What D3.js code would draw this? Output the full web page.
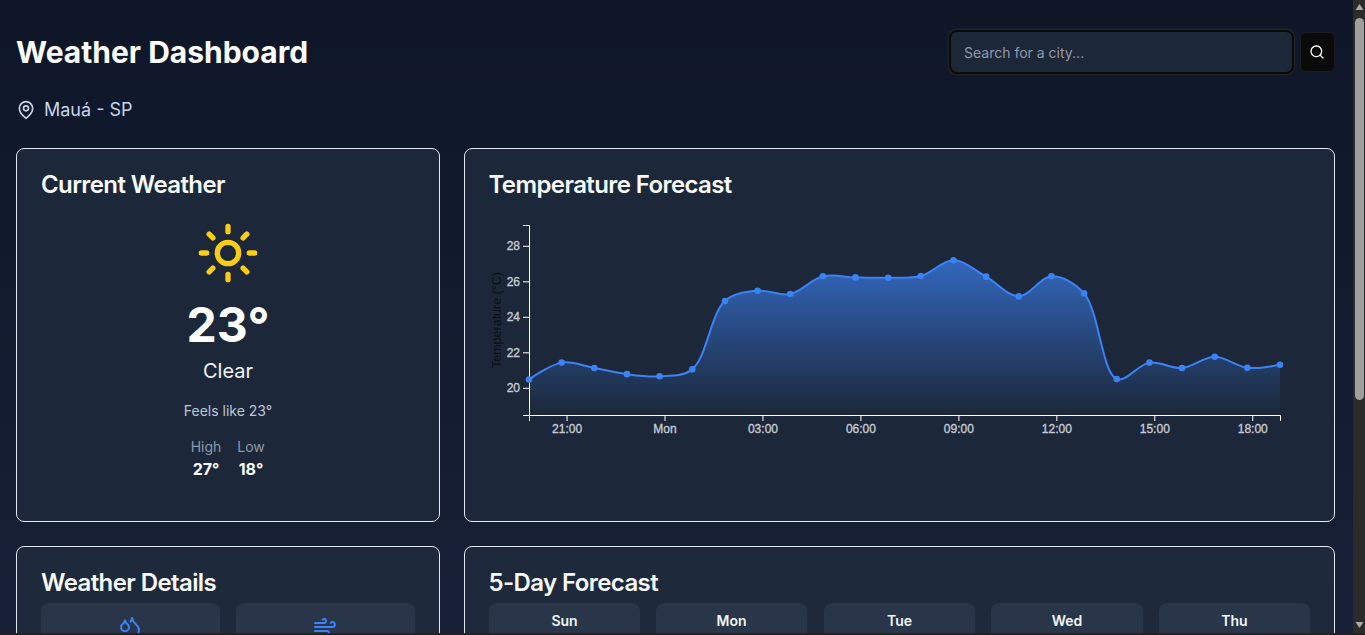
<!DOCTYPE html>
<html><head><meta charset="utf-8">
<script src="https://cdn.jsdelivr.net/npm/d3@7"></script>
<style>
*{box-sizing:border-box}
html,body{margin:0;height:100%;overflow:hidden}
body{width:1365px;height:635px;position:relative;background:linear-gradient(180deg,#0e1628 0%,#172036 100%);font-family:Inter,sans-serif;color:#fff}
.abs{position:absolute;white-space:nowrap}
.card{position:absolute;background:#1c2839;border:1px solid #e2e8f0;border-radius:8px}
.card.low{background:#1e293b}
.h2{position:absolute;font-size:24px;font-weight:600;line-height:32px;letter-spacing:-0.6px;color:#f8fafc;white-space:nowrap}
.tile{position:absolute;background:#293548;border-radius:8px;height:60px}
.ctr{transform:translateX(-50%);text-align:center}
svg{position:absolute;overflow:visible}
#bar{position:absolute;left:1353px;top:0;width:12px;height:633px;background:#2b2b2b}
#thumb{position:absolute;left:1355px;top:18px;width:9px;height:382px;background:#9f9f9f;border-radius:5px}
#edge{position:absolute;left:0;top:633px;width:1365px;height:2px;background:#26221e}
</style></head><body>
<div class="abs" style="left:16px;top:34px;font-size:30px;font-weight:700;line-height:36px;">Weather Dashboard</div>
<svg id="pin" style="left:16px;top:100px" width="20" height="20" viewBox="0 0 24 24" fill="none" stroke="#cbd5e1" stroke-width="2" stroke-linecap="round" stroke-linejoin="round"><path d="M20 10c0 6-8 12-8 12s-8-6-8-12a8 8 0 0 1 16 0Z"/><circle cx="12" cy="10" r="3"/></svg>
<div class="abs" style="left:44px;top:98px;font-size:18px;line-height:24px;color:#c5d5ea">Mauá - SP</div>
<div class="abs" style="left:949px;top:30px;width:345px;height:44px;border-radius:8px;background:#1c2738;border:2px solid #0a0a0a;box-shadow:0 0 0 1.5px #1f2227"></div>
<div class="abs" style="left:964px;top:43px;font-size:14px;line-height:20px;color:#8f9bad">Search for a city...</div>
<div class="abs" style="left:1300px;top:32px;width:35px;height:40px;border-radius:6px;background:#0a0a0a;border:1px solid #1a1c20"></div>
<svg style="left:1309px;top:44px" width="16" height="16" viewBox="0 0 24 24" fill="none" stroke="#fff" stroke-width="2" stroke-linecap="round"><circle cx="11" cy="11" r="8"/><path d="m21 21-4.3-4.3"/></svg>

<div class="card" style="left:16px;top:148px;width:424px;height:374px"></div>
<div class="card" style="left:464px;top:148px;width:871px;height:374px"></div>
<div class="card low" style="left:16px;top:546px;width:424px;height:120px"></div>
<div class="card low" style="left:464px;top:546px;width:871px;height:120px"></div>
<div class="h2" style="left:41px;top:169px">Current Weather</div>
<div class="h2" style="left:488.5px;top:169px">Temperature Forecast</div>
<div class="h2" style="left:41px;top:567px">Weather Details</div>
<div class="h2" style="left:488.5px;top:567px">5-Day Forecast</div>

<svg id="sun" style="left:196px;top:221px" width="64" height="64" viewBox="0 0 24 24" fill="none" stroke="#facc15" stroke-width="2" stroke-linecap="round"><circle cx="12" cy="12" r="4"/><path d="M12 2v2M12 20v2M4.93 4.93l1.41 1.41M17.66 17.66l1.41 1.41M2 12h2M20 12h2M6.34 17.66l-1.41 1.41M19.07 4.93l-1.41 1.41"/></svg>
<div class="abs ctr" id="now" style="left:228px;top:297px;font-size:48px;font-weight:700;line-height:56px"></div>
<div class="abs ctr" style="left:228px;top:358px;font-size:20px;line-height:26px;color:#f1f5f9">Clear</div>
<div class="abs ctr" id="feels" style="left:228px;top:401px;font-size:14px;line-height:20px;color:#bcc6d4"></div>
<div class="abs ctr" style="left:206px;top:437px;font-size:14px;line-height:20px;color:#8b98ab">High</div>
<div class="abs ctr" style="left:251px;top:437px;font-size:14px;line-height:20px;color:#8b98ab">Low</div>
<div class="abs ctr" id="hi" style="left:206px;top:459px;font-size:16px;font-weight:700;line-height:20px"></div>
<div class="abs ctr" id="lo" style="left:251px;top:459px;font-size:16px;font-weight:700;line-height:20px"></div>

<div class="tile" style="left:41px;top:603px;width:179px"></div>
<div class="tile" style="left:236px;top:603px;width:179px"></div>
<svg style="left:118px;top:615px" width="24" height="24" viewBox="0 0 24 24" fill="none" stroke="#3b82f6" stroke-width="2" stroke-linecap="round" stroke-linejoin="round"><path d="M7 16.3c2.2 0 4-1.83 4-4.05 0-1.16-.57-2.26-1.71-3.19S7.29 6.75 7 5.3c-.29 1.45-1.14 2.84-2.29 3.76S3 11.1 3 12.25c0 2.22 1.8 4.05 4 4.05z"/><path d="M12.56 6.6A10.97 10.97 0 0 0 14 3.02c.5 2.5 2 4.9 4 6.5s3 3.5 3 5.5a6.98 6.98 0 0 1-11.91 4.97"/></svg>
<svg style="left:313px;top:615px" width="24" height="24" viewBox="0 0 24 24" fill="none" stroke="#3b82f6" stroke-width="2" stroke-linecap="round" stroke-linejoin="round"><path d="M17.7 7.7a2.5 2.5 0 1 1 1.8 4.3H2"/><path d="M9.6 4.6A2 2 0 1 1 11 8H2"/><path d="M12.6 19.4A2 2 0 1 0 14 16H2"/></svg>
<div id="days"></div>

<svg id="chart" style="left:0;top:0" width="1365" height="635"></svg>

<div id="edge"></div>
<div id="bar"></div><div id="thumb"></div>
<svg style="left:1353px;top:0" width="12" height="633"><path d="M6.5 4 L10.5 10 L2.5 10Z" fill="#a8a8a8"/><path d="M2.5 622 L10.5 622 L6.5 628Z" fill="#a8a8a8"/></svg>

<script>
// Data
const hoursAfterStart = [0,1,2,3,4,5,6,7,8,9,10,11,12,13,14,15,16,17,18,19,20,21,22,23];
const temperatures = [20.47,21.42,21.12,20.77,20.65,21.04,24.89,25.47,25.28,26.28,26.22,26.2,26.3,27.18,26.26,25.15,26.28,25.32,20.5,21.42,21.12,21.75,21.13,21.3];
const yTicks = [20,22,24,26,28];
const yDomain = [18.47,29.17];
const forecastDays = ["Sun","Mon","Tue","Wed","Thu"];
const currentTemp = 23, feelsLike = 23, highTemp = 27, lowTemp = 18;

d3.select("#now").text(currentTemp+"°");
d3.select("#feels").text("Feels like "+feelsLike+"°");
d3.select("#hi").text(highTemp+"°");
d3.select("#lo").text(lowTemp+"°");

const tiles=[[489,151],[656,151],[824,151],[991,152],[1159,151]];
d3.select("#days").selectAll("div").data(forecastDays).join("div").each(function(d,i){
  d3.select(this).append("div").attr("class","tile").style("left",tiles[i][0]+"px").style("top","603px").style("width",tiles[i][1]+"px");
  d3.select(this).append("div").attr("class","abs ctr").style("left",(tiles[i][0]+tiles[i][1]/2)+"px").style("top","611px")
    .style("font-size","14px").style("font-weight","600").style("line-height","20px").style("color","#f1f5f9").text(d);
});

const start = new Date(2024,5,2,19,51);
const dates = hoursAfterStart.map(h=>new Date(+start+h*36e5));
const data = dates.map((d,i)=>({d,v:temperatures[i]}));
const L=529,R=1280,T=225,B=415;
const x=d3.scaleTime().domain(d3.extent(dates)).range([L,R]);
const y=d3.scaleLinear().domain(yDomain).range([B,T]);
const svg=d3.select("#chart");
const grad=svg.append("defs").append("linearGradient").attr("id","fillGrad").attr("x1",0).attr("x2",0).attr("y1",0).attr("y2",1);
grad.append("stop").attr("offset","0%").attr("stop-color","#3b82f6").attr("stop-opacity",0.7);
grad.append("stop").attr("offset","100%").attr("stop-color","#3b82f6").attr("stop-opacity",0);
const curve=d3.curveCatmullRom;
svg.append("path").datum(data).attr("fill","url(#fillGrad)").attr("d",d3.area().x(d=>x(d.d)).y0(B).y1(d=>y(d.v)).curve(curve));
const fmt=d=>d.getHours()===0?d3.timeFormat("%a")(d):d3.timeFormat("%H:%M")(d);
const ax=svg.append("g").attr("transform",`translate(0,${B})`).call(d3.axisBottom(x).ticks(d3.timeHour.every(3)).tickFormat(fmt));
const ay=svg.append("g").attr("transform",`translate(${L},0)`).call(d3.axisLeft(y).tickValues(yTicks));
[ax,ay].forEach(g=>{g.selectAll("path,line").attr("stroke","#fff");g.selectAll("text").attr("fill","#c4cbd6").attr("stroke","#c4cbd6").attr("stroke-width",0.35).style("font-family","'Liberation Sans',Arial,sans-serif").style("font-size","12px");});
svg.append("text").attr("transform","rotate(-90)").attr("x",-320).attr("y",501).attr("text-anchor","middle").attr("fill","#0b0f17")
  .style("font-family","'Liberation Sans',Arial,sans-serif").style("font-size","12.5px").text("Temperature (°C)");
svg.append("path").datum(data).attr("fill","none").attr("stroke","#3b82f6").attr("stroke-width",2).attr("d",d3.line().x(d=>x(d.d)).y(d=>y(d.v)).curve(curve));
svg.selectAll("circle").data(data).join("circle").attr("cx",d=>x(d.d)).attr("cy",d=>y(d.v)).attr("r",3.3).attr("fill","#3b82f6");
</script>
</body></html>
